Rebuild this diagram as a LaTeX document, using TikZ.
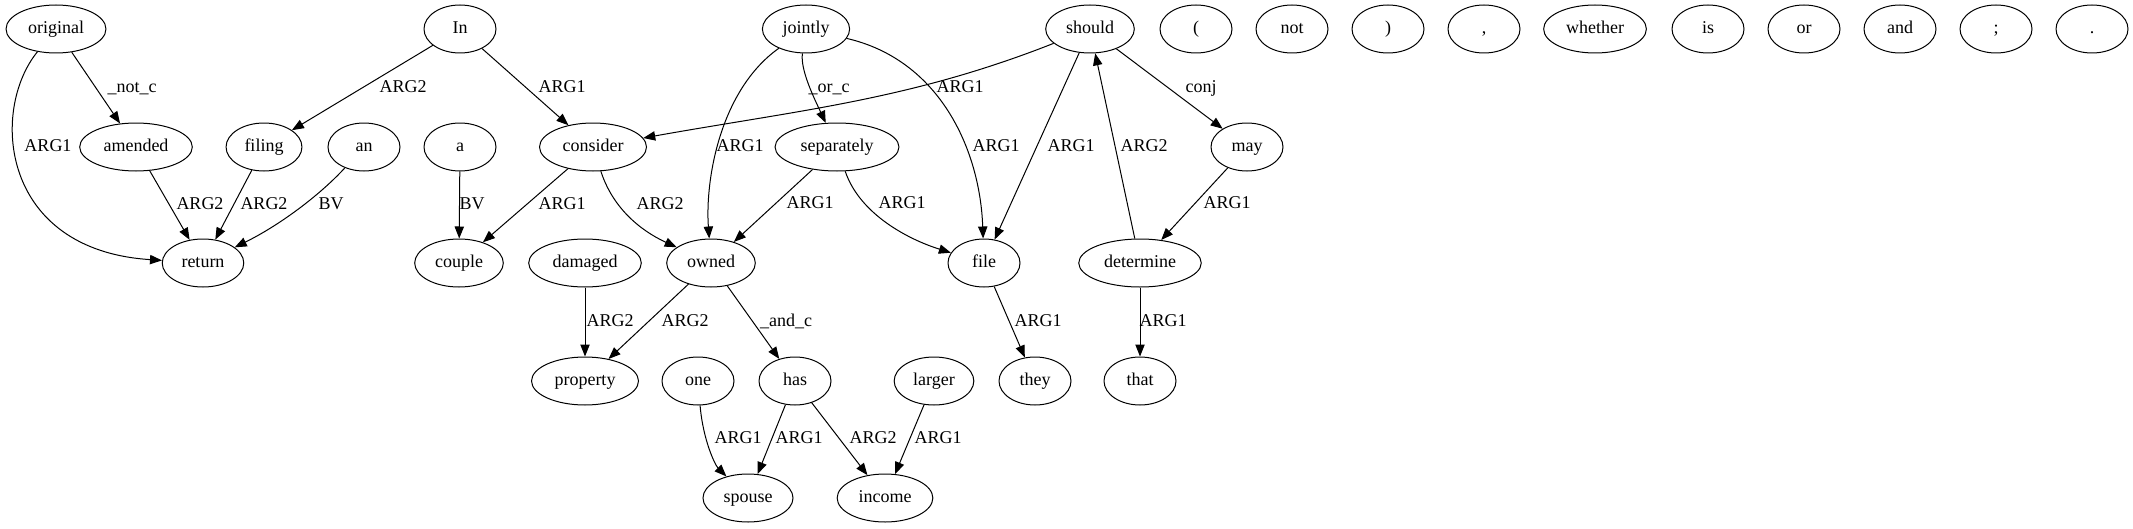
\documentclass[tikz,border=0pt]{standalone}
\usepackage{fontspec}
\setmainfont{Liberation Serif}
\usetikzlibrary{shapes.geometric,arrows.meta}
\tikzset{
  word/.style={draw, ellipse, line width=.75pt, minimum width=54pt, minimum height=36pt,
    inner xsep=5.5pt, text height=10pt, text depth=3pt, font=\fontsize{13.5}{16}\selectfont},
  rel/.style={inner sep=1pt, text height=10pt, text depth=3pt, font=\fontsize{13.5}{16}\selectfont},
  dep/.style={-{Triangle[length=9pt,width=7pt]}, line width=.75pt},
}
\begin{document}
\begin{tikzpicture}[x=.75pt, y=-.75pt]
  \useasboundingbox (0,0) rectangle (2133,528);
  % words
  \node[word] (original) at (56,29) {original};
  \node[word] (In) at (460,29) {In};
  \node[word] (jointly) at (806,29) {jointly};
  \node[word] (should) at (1090,29) {should};
  \node[word] (lpar) at (1196,29) {(};
  \node[word] (not) at (1292,29) {not};
  \node[word] (rpar) at (1388,29) {)};
  \node[word] (comma) at (1484,29) {,};
  \node[word] (whether) at (1595,29) {whether};
  \node[word] (is) at (1708,29) {is};
  \node[word] (or) at (1804,29) {or};
  \node[word] (and) at (1900,29) {and};
  \node[word] (semi) at (1996,29) {;};
  \node[word] (dot) at (2092,29) {.};
  \node[word] (amended) at (136,147) {amended};
  \node[word] (filing) at (264,147) {filing};
  \node[word] (an) at (364,147) {an};
  \node[word] (a) at (460,147) {a};
  \node[word] (consider) at (593,147) {consider};
  \node[word] (separately) at (837,147) {separately};
  \node[word] (may) at (1247,147) {may};
  \node[word] (return) at (203,263) {return};
  \node[word] (couple) at (459,263) {couple};
  \node[word] (damaged) at (585,263) {damaged};
  \node[word] (owned) at (711,263) {owned};
  \node[word] (file) at (984,263) {file};
  \node[word] (determine) at (1140,263) {determine};
  \node[word] (property) at (585,381) {property};
  \node[word] (one) at (698,381) {one};
  \node[word] (has) at (795,381) {has};
  \node[word] (larger) at (934,381) {larger};
  \node[word] (they) at (1035,381) {they};
  \node[word] (that) at (1140,381) {that};
  \node[word] (spouse) at (748,498) {spouse};
  \node[word] (income) at (885,498) {income};
  % relations
  \draw[dep] (original) -- (amended) node[rel] at (132,88) {\_not\_c};
  \draw[dep] (original) .. controls (-10,110) and (0,250) .. (return) node[rel] at (48,147) {ARG1};
  \draw[dep] (amended) -- (return) node[rel] at (200,205) {ARG2};
  \draw[dep] (filing) -- (return) node[rel] at (264,205) {ARG2};
  \draw[dep] (an) .. controls (320,195) and (280,225) .. (return) node[rel] at (331,205) {BV};
  \draw[dep] (In) -- (filing) node[rel] at (403,88) {ARG2};
  \draw[dep] (In) -- (consider) node[rel] at (562,88) {ARG1};
  \draw[dep] (a) -- (couple) node[rel] at (472,205) {BV};
  \draw[dep] (consider) -- (couple) node[rel] at (562,205) {ARG1};
  \draw[dep] (consider) .. controls (615,215) and (650,235) .. (owned) node[rel] at (660,205) {ARG2};
  \draw[dep] (should) .. controls (910,100) and (800,110) .. (consider) node[rel] at (960,88) {ARG1};
  \draw[dep] (jointly) .. controls (720,90) and (705,180) .. (owned) node[rel] at (740,147) {ARG1};
  \draw[dep] (jointly) .. controls (800,70) and (815,100) .. (separately) node[rel] at (829,88) {\_or\_c};
  \draw[dep] (jointly) .. controls (940,60) and (980,150) .. (file) node[rel] at (996,147) {ARG1};
  \draw[dep] (should) -- (file) node[rel] at (1071,147) {ARG1};
  \draw[dep] (determine) -- (should) node[rel] at (1144,147) {ARG2};
  \draw[dep] (should) -- (may) node[rel] at (1201,88) {conj};
  \draw[dep] (may) -- (determine) node[rel] at (1227,204) {ARG1};
  \draw[dep] (separately) -- (owned) node[rel] at (810,204) {ARG1};
  \draw[dep] (separately) .. controls (860,215) and (910,240) .. (file) node[rel] at (902,204) {ARG1};
  \draw[dep] (damaged) -- (property) node[rel] at (610,322) {ARG2};
  \draw[dep] (owned) -- (property) node[rel] at (685,322) {ARG2};
  \draw[dep] (owned) -- (has) node[rel] at (786,322) {\_and\_c};
  \draw[dep] (file) -- (they) node[rel] at (1038,322) {ARG1};
  \draw[dep] (determine) -- (that) node[rel] at (1163,322) {ARG1};
  \draw[dep] (one) .. controls (703,440) and (715,465) .. (spouse) node[rel] at (738,439) {ARG1};
  \draw[dep] (has) -- (spouse) node[rel] at (799,439) {ARG1};
  \draw[dep] (has) -- (income) node[rel] at (873,439) {ARG2};
  \draw[dep] (larger) -- (income) node[rel] at (938,439) {ARG1};
\end{tikzpicture}
\end{document}
